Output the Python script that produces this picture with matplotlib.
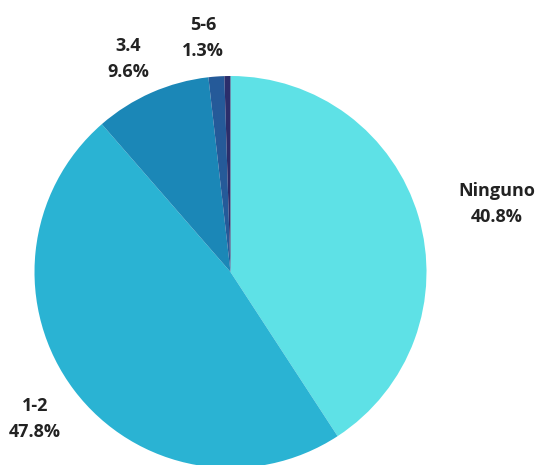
import matplotlib.pyplot as plt

# data
labels = ['Ninguno', '1-2', '3.4', '5-6', '']
values = [40.8, 47.8, 9.6, 1.3, 0.5]
colors = ['#5ee1e6', '#2ab3d3', '#1b87b7', '#255a99', '#2b2e6b']

plt.rcParams['font.family'] = ['Open Sans', 'DejaVu Sans']

fig = plt.figure(figsize=(5.49, 4.65), dpi=100)
ax = fig.add_axes([0, 0, 1, 1])

ax.pie(values, colors=colors, startangle=90, counterclock=False,
       center=(230.5, 193), radius=196, frame=True,
       wedgeprops=dict(linewidth=0))
ax.set_xlim(0, 549)
ax.set_ylim(0, 465)
ax.set_aspect('equal')
ax.axis('off')

# label positions in pixels
label_pos = [(497, 261), (35, 46), (128, 406), (203, 427)]
for i in range(4):
    x, y = label_pos[i]
    ax.text(x, y, labels[i] + '\n' + str(values[i]) + '%', ha='center', va='center',
            fontsize=13, fontweight='bold', color='#222222', linespacing=1.62)

fig.savefig('out.png', dpi=100)
